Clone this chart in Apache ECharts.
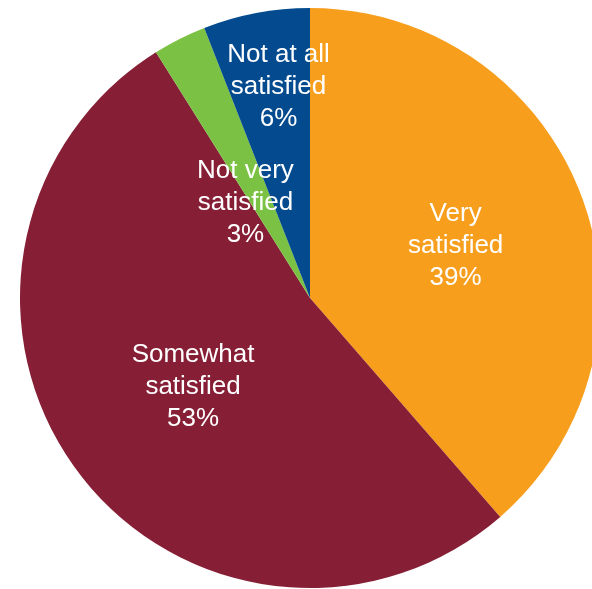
<!DOCTYPE html>
<html>
<head>
<meta charset="utf-8">
<script src="https://cdn.jsdelivr.net/npm/echarts@6/dist/echarts.min.js"></script>
<style>
  html, body { margin: 0; padding: 0; background: #ffffff; }
  #chart { width: 592px; height: 589px; }
</style>
</head>
<body>
<div id="chart"></div>
<script>
// Data
const categories = ['Very\nsatisfied', 'Somewhat\nsatisfied', 'Not very\nsatisfied', 'Not at all\nsatisfied'];
const percentValues = [39, 53, 3, 6];

// Styles (kept separate from data)
const sliceColors = ['#F79E1C', '#861F35', '#7BC143', '#034A8E'];
const labelShift = [[7, 0], [2, 1], [2, 37], [-4, -66]];

const chart = echarts.init(document.getElementById('chart'), null, { renderer: 'canvas' });

const seriesData = categories.map((name, i) => ({
  name: name,
  value: percentValues[i],
  itemStyle: { color: sliceColors[i] }
}));

chart.setOption({
  animation: false,
  backgroundColor: '#ffffff',
  series: [{
    type: 'pie',
    center: [310, 298],
    radius: [0, 290],
    startAngle: 90,
    clockwise: true,
    avoidLabelOverlap: false,
    itemStyle: { borderWidth: 0 },
    label: {
      show: true,
      position: 'inside',
      color: '#ffffff',
      fontFamily: '"Liberation Sans", Arial, Helvetica, sans-serif',
      fontSize: 26,
      lineHeight: 32,
      align: 'center',
      formatter: p => p.name + '\n' + p.value + '%'
    },
    labelLine: { show: false },
    labelLayout: function (params) {
      const s = labelShift[params.dataIndex];
      return { dx: s[0], dy: s[1] };
    },
    emphasis: { disabled: true },
    data: seriesData
  }]
});
</script>
</body>
</html>
